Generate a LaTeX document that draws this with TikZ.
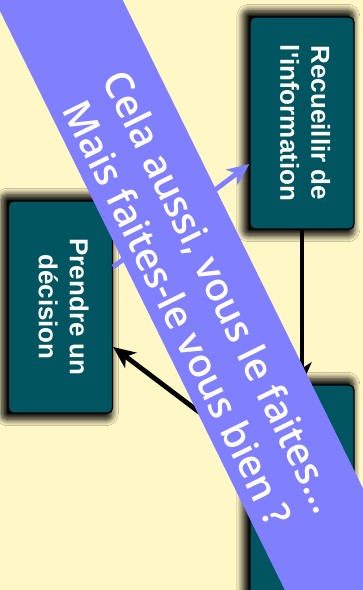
\documentclass[tikz,border=0pt]{standalone}
\usepackage{fontspec}
\setmainfont{Liberation Sans}[Ligatures=TeXOff]
\newfontfamily\bandfont{Open Sans}[BoldFont={Open Sans Semibold}]
\usetikzlibrary{arrows.meta,shadows.blur}
\definecolor{paper}{HTML}{FFF7C6}
\definecolor{boxteal}{HTML}{005561}
\definecolor{bandblue}{HTML}{8080FF}
\newcommand{\boxlabel}[1]{\rotatebox{-90}{\begin{tabular}{@{}c@{}}#1\end{tabular}}}
\begin{document}
\begin{tikzpicture}[x=1pt,y=-1pt,
  stepbox/.style={draw=black, line width=1.3pt, rounded corners=5pt, fill=boxteal,
    minimum width=104pt, minimum height=212pt, inner sep=0pt, text=white,
    font=\bfseries\fontsize{26}{31}\selectfont,
    blur shadow={shadow xshift=-3.5pt, shadow yshift=0pt, shadow scale=1.06,
      shadow blur radius=6pt, shadow blur steps=12, shadow opacity=100}},
  flow/.style={line width=4.8pt, -{Stealth[length=22pt,width=19pt,inset=6pt]}},
]
% background
\fill[paper] (0,0) rectangle (363,590);
\useasboundingbox (0,0) rectangle (363,590);

% the three steps
\node[stepbox] (collect) at (302,123) {\boxlabel{Recueillir de\\l'information}};
\node[stepbox] (decide) at (60.5,307) {\boxlabel{Prendre un\\décision}};
\node[stepbox] (act) at (302,491) {};

% cycle arrows
\draw[flow] (collect.south) -- (act.north);
\draw[flow] ([yshift=41pt]act.west) -- ([yshift=-40pt]decide.east);
\draw[flow, draw=bandblue, fill=bandblue] ([yshift=40pt]decide.east) -- ([yshift=-41pt]collect.west);

% diagonal banner
\begin{scope}[shift={(201.3,290)}, rotate=-63.8]
  \fill[bandblue] (-420,-57.5) rectangle (420,57.5);
\end{scope}
\node[rotate=-63.8, text=white, align=center,
  font=\bandfont\bfseries\fontsize{39}{49}\selectfont] (slogan) at (200,302)
  {Cela aussi, vous le faites…\\Mais faites-le vous bien ?};
\end{tikzpicture}
\end{document}
